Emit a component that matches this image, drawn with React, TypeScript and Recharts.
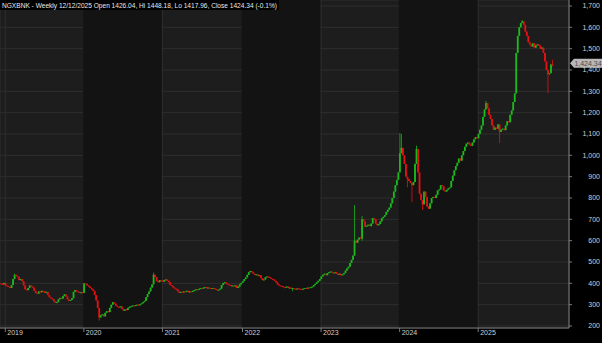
import { Bar, CartesianGrid, ComposedChart, ReferenceArea, ReferenceLine, XAxis, YAxis } from "recharts";

const UP = "#1cb81c";
const DOWN = "#e61212";

// week index where each year starts (weekly bars, first bar = mid Dec 2018)
const yearStart = [3, 55, 107, 160, 212, 264, 316];
const yearLabels = ["2019", "2020", "2021", "2022", "2023", "2024", "2025"];
const priceTicks = [200, 300, 400, 500, 600, 700, 800, 900, 1000, 1100, 1200, 1300, 1400, 1500, 1600, 1700];

const firstOpen = 400;
const close2018 = [398, 395, 402];
const close2019 = [
  390, 388, 383, 378, 392, 420, 440, 435, 430, 415, 420, 410, 390, 372, 368, 378, 390, 385, 380, 365, 355, 352,
  362, 358, 365, 362, 355, 360, 345, 335, 330, 325, 315, 308, 312, 325, 332, 328, 340, 348, 338, 325, 318, 322,
  330, 360, 368, 362, 360, 355, 358, 355,
];
const close2020 = [
  400, 398, 390, 385, 378, 372, 365, 345, 320, 285, 240, 250, 255, 245, 262, 270, 265, 285, 300, 312, 305, 295,
  290, 288, 292, 280, 272, 278, 275, 285, 290, 292, 296, 294, 298, 300, 297, 302, 306, 312, 318, 335, 350, 362,
  380, 395, 440, 430, 410, 405, 415, 412,
];
const close2021 = [
  408, 415, 418, 412, 405, 392, 388, 380, 375, 372, 362, 355, 360, 358, 362, 360, 365, 358, 362, 360, 365, 368,
  372, 370, 374, 378, 376, 380, 382, 378, 380, 378, 376, 378, 375, 372, 368, 370, 375, 392, 400, 405, 398, 395,
  392, 388, 390, 386, 390, 378, 385, 395, 402,
];
const close2022 = [
  410, 420, 428, 440, 452, 458, 452, 445, 440, 442, 436, 438, 425, 415, 418, 428, 432, 430, 425, 420, 418, 412,
  405, 395, 390, 388, 385, 382, 380, 385, 378, 380, 376, 378, 374, 372, 376, 375, 373, 372, 375, 378, 376, 380,
  378, 382, 385, 392, 398, 405, 412, 420,
];
const close2023 = [
  432, 440, 445, 438, 448, 452, 455, 450, 448, 452, 445, 440, 445, 438, 442, 448, 460, 470, 478, 495, 510, 530,
  600, 590, 605, 615, 610, 700, 690, 665, 670, 675, 668, 680, 706, 700, 680, 672, 678, 690, 705, 712, 720, 735,
  745, 755, 775, 800, 830, 860, 885, 920,
];
const close2024 = [
  1010, 1035, 1000, 960, 900, 890, 880, 870, 860, 875, 960, 1030, 920, 820, 790, 770, 830, 805, 760, 750, 775, 800,
  805, 800, 815, 835, 840, 860, 855, 835, 830, 838, 845, 850, 880, 905, 930, 950, 965, 985, 975, 1000, 1020, 1040,
  1055, 1060, 1050, 1045, 1060, 1075, 1085, 1080,
];
const close2025 = [
  1100, 1120, 1140, 1180, 1215, 1245, 1220, 1190, 1170, 1140, 1120, 1130, 1125, 1145, 1110, 1120, 1125, 1118,
  1140, 1160, 1155, 1190, 1210, 1250, 1290, 1480, 1560, 1600, 1620, 1628, 1612, 1580, 1560, 1530, 1520, 1510,
  1525, 1505, 1515, 1520, 1515, 1500, 1505, 1480, 1440, 1400, 1380, 1385, 1426.04, 1424.34,
];

// notable wicks: [bar index, high, low]
const wicks: [number, number, number][] = [
  [9, 445, 0],
  [65, 0, 225],
  [101, 450, 0],
  [193, 0, 363],
  [234, 767, 0],
  [239, 715, 600],
  [264, 1105, 0],
  [265, 1100, 0],
  [269, 0, 850],
  [272, 0, 781],
  [275, 1045, 0],
  [279, 0, 744],
  [321, 1255, 0],
  [330, 0, 1058],
  [345, 1634, 0],
  [362, 0, 1292],
  [365, 1448.18, 1417.96],
];

const closes = [...close2018, ...close2019, ...close2020, ...close2021, ...close2022, ...close2023, ...close2024, ...close2025];
const lastClose = closes[closes.length - 1];

const rows = closes.map((c, i) => {
  const o = i === 0 ? firstOpen : closes[i - 1];
  const w = wicks.find((k) => k[0] === i);
  const h = Math.max(o, c, w && w[1] ? w[1] : 0);
  const l = Math.min(o, c, w && w[2] ? w[2] : Infinity);
  return { i, o, h, l, c, range: [l, h] };
});

function Candle(props: any) {
  const { x, y, width, height, payload } = props;
  if (!payload || !height) return null;
  const { o, h, l, c } = payload;
  const k = height / (h - l);
  const cx = x + width / 2;
  const color = c >= o ? UP : DOWN;
  const top = y + (h - Math.max(o, c)) * k;
  const bodyH = Math.max(Math.abs(c - o) * k, 1);
  return (
    <g>
      <line x1={cx} x2={cx} y1={y} y2={y + height} stroke={color} strokeWidth={0.8} />
      <rect x={cx - 0.9} y={top} width={1.8} height={bodyH} fill={color} />
    </g>
  );
}

function YearTick({ x, y, payload }: any) {
  const n = yearStart.indexOf(payload.value);
  return (
    <text x={x + 2} y={y + 2.5} fill="#d0d0d0" fontSize={7} fontFamily="Liberation Sans, Arial">
      {yearLabels[n]}
    </text>
  );
}

function PriceTick({ y, payload }: any) {
  return (
    <text x={600} y={y + 2.5} textAnchor="end" fill="#d0d0d0" fontSize={7} fontFamily="Liberation Sans, Arial">
      {payload.value.toLocaleString("en-US")}
    </text>
  );
}

function PriceTag({ viewBox }: any) {
  const x = viewBox.x + viewBox.width;
  const y = viewBox.y - 1.5;
  return (
    <g>
      <path d={`M${x + 1},${y} L${x + 5},${y - 4.5} L${x + 33},${y - 4.5} L${x + 33},${y + 4.5} L${x + 5},${y + 4.5} Z`} fill="#b8b8b8" />
      <text x={x + 19} y={y + 2.5} textAnchor="middle" fill="#4a4a4a" fontSize={7} fontFamily="Liberation Sans, Arial">
        {lastClose.toLocaleString("en-US", { minimumFractionDigits: 2 })}
      </text>
    </g>
  );
}

const darkYears = [
  [55, 106],
  [160, 211],
  [264, 315],
];

export default function App() {
  return (
    <div style={{ position: "fixed", left: 0, top: 0, width: 602, height: 343, background: "#000" }}>
      <div style={{ position: "absolute", left: 0, top: 0, width: 569, height: 328, background: "#1d1d1d" }} />
      <div style={{ position: "absolute", left: 0, top: 0 }}>
        <ComposedChart width={602} height={343} data={rows} margin={{ top: 0, right: 0, bottom: 0, left: 0 }} barCategoryGap={0}>
          {darkYears.map(([a, b]) => (
            <ReferenceArea key={a} x1={a} x2={b} fill="#131313" fillOpacity={1} stroke="none" />
          ))}
          <CartesianGrid stroke="#2e2e2e" />
          <XAxis
            dataKey="i"
            ticks={yearStart}
            interval={0}
            height={15}
            tickSize={4}
            tickMargin={0}
            padding={{ left: 0, right: 16 }}
            axisLine={{ stroke: "#7a7a7a" }}
            tickLine={{ stroke: "#7a7a7a" }}
            tick={<YearTick />}
          />
          <YAxis
            orientation="right"
            width={33}
            domain={[190.6, 1728.1]}
            allowDataOverflow
            ticks={priceTicks}
            interval={0}
            tickSize={3}
            axisLine={{ stroke: "#7a7a7a" }}
            tickLine={{ stroke: "#7a7a7a" }}
            tick={<PriceTick />}
          />
          <Bar dataKey="range" shape={<Candle />} isAnimationActive={false} />
          <ReferenceLine y={lastClose} stroke="none" label={<PriceTag />} />
        </ComposedChart>
      </div>
      <svg style={{ position: "absolute", left: 0, top: 0 }} width={282} height={11}>
        <rect x={0} y={0} width={279} height={10} fill="#000" />
        <text x={2} y={8} textLength={275} lengthAdjust="spacingAndGlyphs" fill="#e8e8e8" fontSize={7.5} fontFamily="Liberation Sans, Arial">
          NGXBNK - Weekly 12/12/2025 Open 1426.04, Hi 1448.18, Lo 1417.96, Close 1424.34 (-0.1%)
        </text>
      </svg>
    </div>
  );
}
